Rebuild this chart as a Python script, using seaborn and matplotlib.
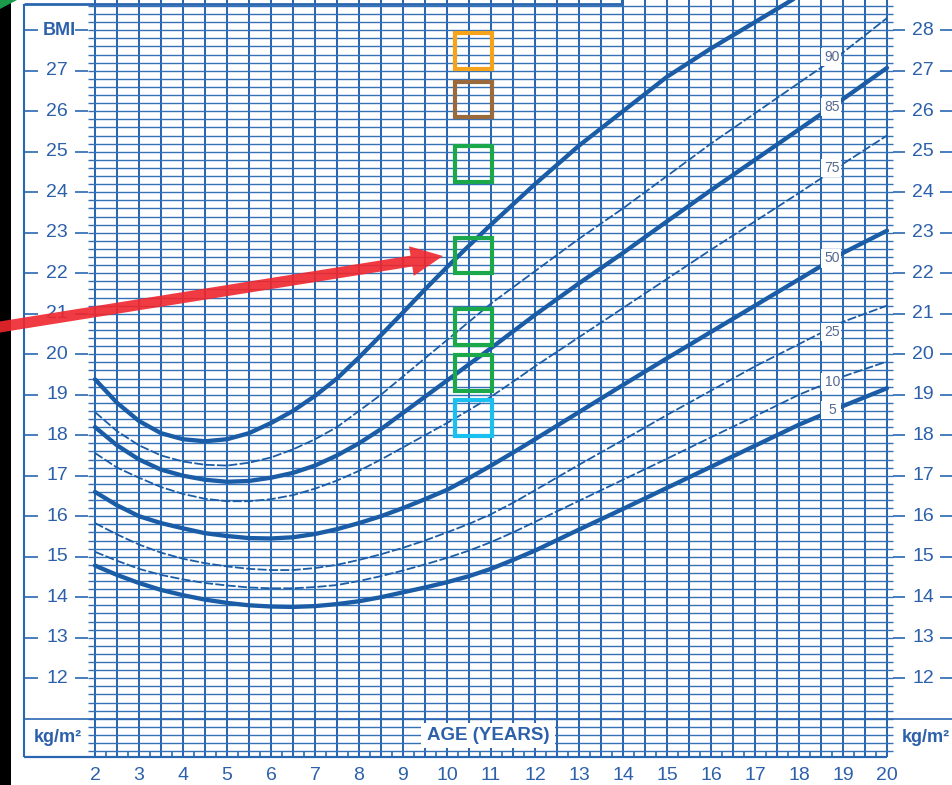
import numpy as np
import pandas as pd
import matplotlib
matplotlib.use("Agg")
import matplotlib.pyplot as plt
from matplotlib.patches import Rectangle, FancyArrow, Polygon
import seaborn as sns

# ---------------------------------------------------------------- data
ages = [2, 2.5, 3, 3.5, 4, 4.5, 5, 5.5, 6, 6.5, 7, 7.5, 8, 8.5, 9,
        9.5, 10, 10.5, 11, 11.5, 12, 13, 14, 15, 16, 17, 18, 19, 20]

p5 = [14.78, 14.55, 14.35, 14.18, 14.05, 13.94, 13.86, 13.80, 13.77, 13.76, 13.78, 13.83, 13.90, 14.00, 14.12,
      14.24, 14.37, 14.52, 14.70, 14.92, 15.15, 15.67, 16.18, 16.70, 17.22, 17.74, 18.26, 18.72, 19.16]
p10 = [15.12, 14.90, 14.70, 14.55, 14.44, 14.35, 14.29, 14.24, 14.22, 14.22, 14.25, 14.30, 14.40, 14.52, 14.66,
       14.81, 14.97, 15.15, 15.36, 15.60, 15.86, 16.38, 16.90, 17.42, 17.95, 18.47, 19.00, 19.45, 19.82]
p25 = [15.83, 15.55, 15.30, 15.10, 14.95, 14.84, 14.76, 14.70, 14.67, 14.67, 14.72, 14.80, 14.92, 15.06, 15.22,
       15.40, 15.60, 15.81, 16.05, 16.33, 16.64, 17.27, 17.88, 18.50, 19.10, 19.70, 20.25, 20.80, 21.20]
p50 = [16.60, 16.27, 16.00, 15.83, 15.70, 15.58, 15.51, 15.46, 15.45, 15.48, 15.56, 15.68, 15.83, 16.00, 16.20,
       16.42, 16.65, 16.94, 17.25, 17.57, 17.90, 18.57, 19.24, 19.90, 20.55, 21.20, 21.85, 22.50, 23.05]
p75 = [17.56, 17.20, 16.95, 16.72, 16.55, 16.43, 16.37, 16.37, 16.42, 16.52, 16.68, 16.88, 17.12, 17.40, 17.70,
       18.00, 18.30, 18.62, 18.95, 19.32, 19.70, 20.42, 21.14, 21.86, 22.58, 23.28, 23.98, 24.70, 25.40]
p85 = [18.20, 17.75, 17.40, 17.15, 17.00, 16.90, 16.85, 16.87, 16.95, 17.07, 17.25, 17.50, 17.80, 18.15, 18.55,
       18.95, 19.35, 19.75, 20.15, 20.56, 20.97, 21.75, 22.50, 23.28, 24.05, 24.80, 25.55, 26.30, 27.07]
p90 = [18.57, 18.10, 17.75, 17.50, 17.35, 17.27, 17.25, 17.32, 17.45, 17.65, 17.90, 18.20, 18.60, 19.00, 19.45,
       19.90, 20.35, 20.80, 21.25, 21.65, 22.05, 22.85, 23.60, 24.40, 25.20, 25.95, 26.70, 27.45, 28.30]
p95 = [19.38, 18.80, 18.35, 18.05, 17.90, 17.85, 17.90, 18.05, 18.30, 18.60, 18.97, 19.40, 19.92, 20.47, 21.03,
       21.60, 22.15, 22.68, 23.20, 23.70, 24.20, 25.15, 26.00, 26.85, 27.55, 28.20, 28.85]

pct_names = ["5", "10", "25", "50", "75", "85", "90", "95"]
pct_values = [p5, p10, p25, p50, p75, p85, p90, p95]
pct_bold = [True, False, False, True, False, True, False, True]

# labels printed on the curves near age 18.75
label_names = ["90", "85", "75", "50", "25", "10", "5"]
label_bmi = [27.34, 26.10, 24.60, 22.37, 20.55, 19.31, 18.62]

age_ticks = list(range(2, 21))
bmi_ticks_left = list(range(12, 28))
bmi_ticks_right = list(range(12, 29))

# highlighted BMI bands at age ~10.6 (bottom edge, colour)
marker_age = 10.6
marker_bottoms = [27.05, 25.85, 24.25, 22.00, 20.23, 19.09, 17.98]
marker_colors = ["#f7a21b", "#9b6a3c", "#1aa84a", "#1aa84a", "#1aa84a", "#1aa84a", "#19c0f0"]

# ---------------------------------------------------------------- style
sns.set_theme(style="white")
plt.rcParams["font.family"] = ["Liberation Sans", "DejaVu Sans"]

GRID_V = "#2a67b1"
GRID_H = "#3571b7"
CURVE = "#1b5ca7"
TEXT = "#2c60aa"
PLABEL = "#56698f"

W, H = 953, 785
fig = plt.figure(figsize=(W / 100, H / 100), dpi=100)
fig.patch.set_facecolor("white")


# layout helpers: chart pixel position -> age / BMI
def X(px):
    return 2 + (px - 95) / 44.0


def Y(py):
    return 27 - (py - 70.7) / 40.5


ax = fig.add_axes([0, 0, 1, 1])
ax.set_facecolor("white")

# ---------------------------------------------------------------- grid
ax.vlines(np.arange(2, 20.01, 0.5), Y(757), Y(0), color=GRID_V, lw=1.45, zorder=1)
ax.vlines(np.arange(2.25, 20, 0.5), Y(757), Y(751), color=GRID_V, lw=1.2, zorder=1)
minor = np.round(np.arange(10.2, 28.61, 0.2), 1)
ax.hlines(minor, X(88), X(893), color=GRID_H, lw=1.0, zorder=1)

# tick stubs around the BMI numbers
for v in bmi_ticks_left + [28]:
    ax.hlines(v, X(24), X(38), color=GRID_V, lw=1.2, zorder=1)
    ax.hlines(v, X(75), X(88), color=GRID_V, lw=1.2, zorder=1)
for v in bmi_ticks_right:
    ax.hlines(v, X(893), X(905), color=GRID_V, lw=1.2, zorder=1)
    ax.hlines(v, X(940), X(953), color=GRID_V, lw=1.2, zorder=1)
ax.hlines(11, X(24), X(953), color=GRID_V, lw=1.2, zorder=1)

# frame
ax.vlines(X(24), Y(757), Y(4), color=GRID_V, lw=1.5, zorder=1)
ax.hlines(Y(4), X(24), X(622), color=GRID_V, lw=2.0, zorder=1)
ax.vlines(X(622), Y(4), Y(0), color=GRID_V, lw=1.5, zorder=1)
ax.hlines(Y(757), X(24), X(887), color=GRID_V, lw=1.6, zorder=1)

# ---------------------------------------------------------------- curves
for name, vals, bold in zip(pct_names, pct_values, pct_bold):
    d = pd.DataFrame({"age": ages[:len(vals)], "bmi": vals})
    if bold:
        sns.lineplot(data=d, x="age", y="bmi", ax=ax, color=CURVE, lw=3.1,
                     zorder=3, legend=False, solid_capstyle="round", solid_joinstyle="round")
    else:
        sns.lineplot(data=d, x="age", y="bmi", ax=ax, color=CURVE, lw=1.3,
                     linestyle=(0, (5, 1.3)), zorder=3, legend=False)

# percentile labels in small white boxes
for name, yv in zip(label_names, label_bmi):
    ax.add_patch(Rectangle((X(821.5), yv - 0.23), X(841.5) - X(821.5), 0.46,
                           facecolor="white", edgecolor="none", zorder=4))
    ax.text(18.76, yv, name, ha="center", va="center", fontsize=10,
            color=PLABEL, zorder=5)

# ---------------------------------------------------------------- highlight squares
mw = X(492) - X(455)
for b, c in zip(marker_bottoms, marker_colors):
    ax.add_patch(Rectangle((marker_age - mw / 2, b), mw, 0.88, facecolor="none",
                           edgecolor=c, lw=3.0, zorder=6))

# ---------------------------------------------------------------- axis text
for v in bmi_ticks_left:
    ax.text(X(57), v, str(v), ha="center", va="center", fontsize=14, color=TEXT,
            bbox=dict(facecolor="white", edgecolor="none", pad=0.5), zorder=2)
ax.text(X(59), 28, "BMI", ha="center", va="center", fontsize=13, color=TEXT,
        fontweight="bold", zorder=2)
for v in bmi_ticks_right:
    ax.text(X(923), v, str(v), ha="center", va="center", fontsize=14, color=TEXT, zorder=2)
for a in age_ticks:
    ax.text(a, Y(775), str(a), ha="center", va="center", fontsize=14, color=TEXT)

ax.text(X(58), Y(737), "kg/m²", ha="center", va="center", fontsize=13, color=TEXT,
        fontweight="bold", zorder=2)
ax.text(X(926), Y(737), "kg/m²", ha="center", va="center", fontsize=13, color=TEXT,
        fontweight="bold", zorder=2)
ax.add_patch(Rectangle((X(421), Y(748)), X(555) - X(421), Y(723) - Y(748),
                       facecolor="white", edgecolor="none", zorder=4))
ax.text(X(488), Y(736), "AGE (YEARS)", ha="center", va="center", fontsize=13.5,
        color=TEXT, fontweight="bold", zorder=5)

ax.set_xlim(X(0), X(W))
ax.set_ylim(Y(H), Y(0))
ax.axis("off")

# ---------------------------------------------------------------- overlay in pixel units
ov = fig.add_axes([0, 0, 1, 1])
ov.set_xlim(0, W)
ov.set_ylim(H, 0)
ov.axis("off")
ov.patch.set_alpha(0)
ov.add_patch(Rectangle((0, 0), 11.5, H, facecolor="black", edgecolor="none", zorder=1))
ov.add_patch(Polygon([(0, 0), (17, 0), (0, 9)], closed=True, facecolor="#1a9a4a",
                     edgecolor="none", zorder=2))
ov.add_patch(FancyArrow(-4, 327.6, 447, -71.6, width=11, head_width=30, head_length=32,
                        length_includes_head=True, facecolor="#f0262d", edgecolor="none",
                        alpha=0.9, zorder=3))

fig.savefig("out.png", dpi=100)
